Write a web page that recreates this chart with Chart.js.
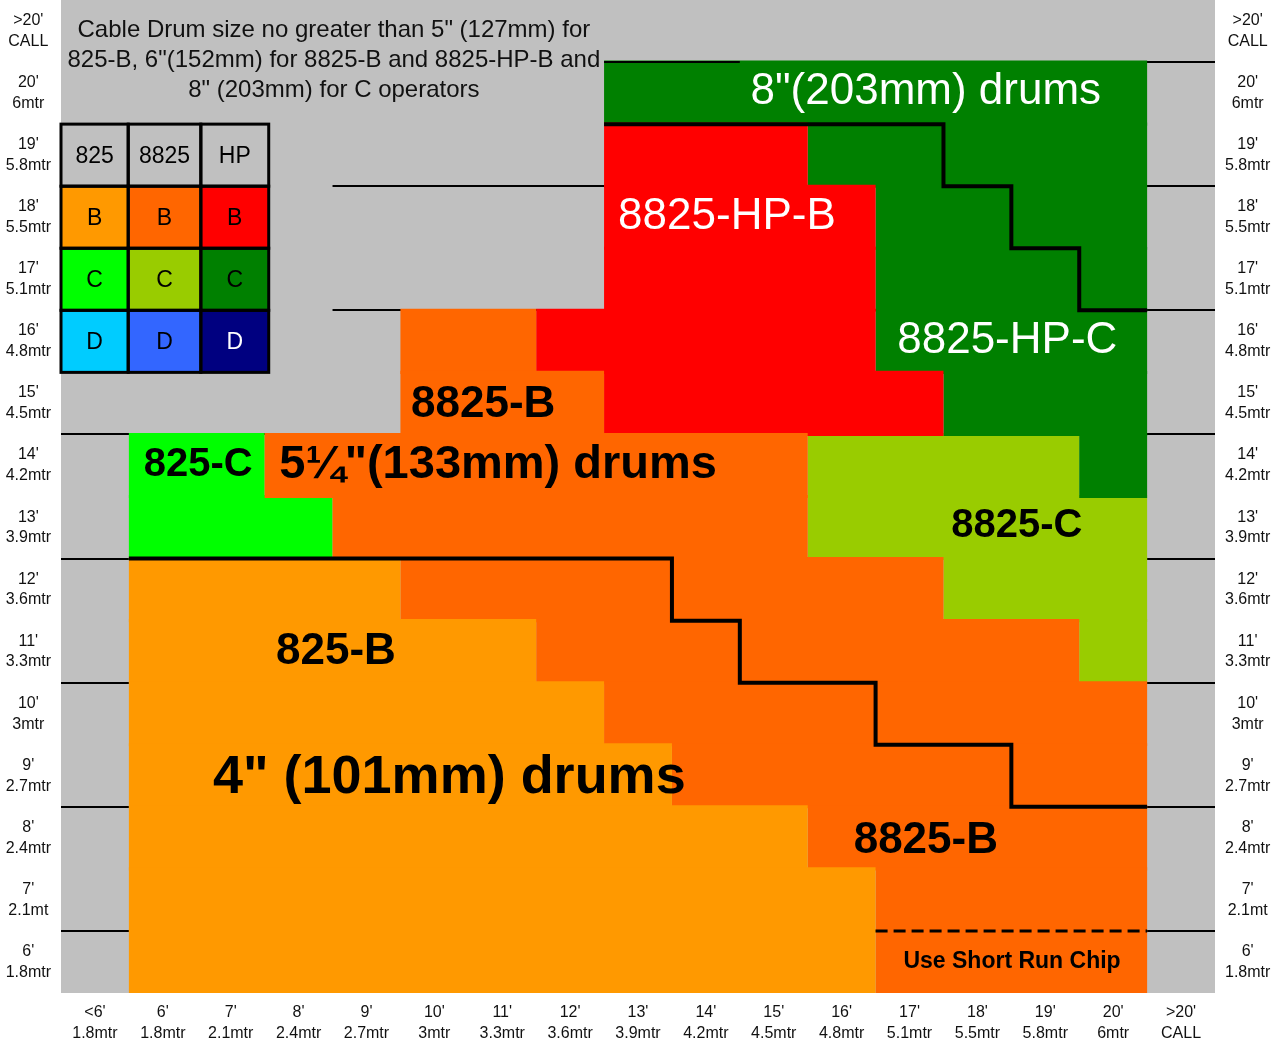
<!DOCTYPE html>
<html><head><meta charset="utf-8">
<script src="https://cdn.jsdelivr.net/npm/chart.js@4/dist/chart.umd.min.js"></script>
<style>html,body{margin:0;padding:0;background:#fff}#wrap{width:1282px;height:1046px;position:relative}</style>
</head><body><div id="wrap"><canvas id="c"></canvas></div>
<script>
// ---------- data ----------
const rowLabels = [[">20'","CALL"],["20'","6mtr"],["19'","5.8mtr"],["18'","5.5mtr"],["17'","5.1mtr"],["16'","4.8mtr"],["15'","4.5mtr"],["14'","4.2mtr"],["13'","3.9mtr"],["12'","3.6mtr"],["11'","3.3mtr"],["10'","3mtr"],["9'","2.7mtr"],["8'","2.4mtr"],["7'","2.1mt"],["6'","1.8mtr"]];
const colLabels = [["<6'","1.8mtr"],["6'","1.8mtr"],["7'","2.1mtr"],["8'","2.4mtr"],["9'","2.7mtr"],["10'","3mtr"],["11'","3.3mtr"],["12'","3.6mtr"],["13'","3.9mtr"],["14'","4.2mtr"],["15'","4.5mtr"],["16'","4.8mtr"],["17'","5.1mtr"],["18'","5.5mtr"],["19'","5.8mtr"],["20'","6mtr"],[">20'","CALL"]];
const _ = null;
// each entry: [first column, end column] per row (rows top to bottom)
const range825B    = [_,_,_,_,_,_,_,_,_,[1,5],[1,7],[1,8],[1,9],[1,11],[1,12],[1,12]];
const range8825B   = [_,_,_,_,_,[5,7],[5,8],[3,11],[4,11],[5,13],[7,15],[8,16],[9,16],[11,16],[12,16],[12,16]];
const range8825HPB = [_,_,[8,11],[8,12],[8,12],[7,12],[8,13],_,_,_,_,_,_,_,_,_];
const range8825HPC = [_,[8,16],[11,16],[12,16],[12,16],[12,16],[13,16],[15,16],_,_,_,_,_,_,_,_];
const range8825C   = [_,_,_,_,_,_,_,[11,15],[11,16],[13,16],[15,16],_,_,_,_,_];
const range825C    = [_,_,_,_,_,_,_,[1,3],[1,4],_,_,_,_,_,_,_];
// boundary lines (column, row-boundary)
const upperStep = [{x:8,y:2},{x:13,y:2},{x:13,y:3},{x:14,y:3},{x:14,y:4},{x:15,y:4},{x:15,y:5},{x:16,y:5}];
const lowerStep = [{x:1,y:9},{x:9,y:9},{x:9,y:10},{x:10,y:10},{x:10,y:11},{x:12,y:11},{x:12,y:12},{x:14,y:12},{x:14,y:13},{x:16,y:13}];
const shortRunLine = [{x:12,y:15},{x:16,y:15}];
const topRule = [{x:8,y:1},{x:10,y:1}];
// key table
const keyHeaders = ['825','8825','HP'];
const keyRows = ['B','C','D'];
const keyColors = [['#FF9900','#FF6600','#FF0000'],['#00FF00','#99CC00','#008000'],['#00CCFF','#3366FF','#000080']];
const noteLines = ['Cable Drum size no greater than 5" (127mm) for','825-B, 6"(152mm) for 8825-B and 8825-HP-B and','8" (203mm) for C operators'];

// ---------- styling ----------
const GRAY = '#C0C0C0';
const FAM = '"Liberation Sans", Arial, Helvetica, sans-serif';
const labelsOnChart = [
  {t:'8"(203mm) drums', x:12.74, y:1.48, f:'44px', c:'#fff'},
  {t:'8825-HP-B', x:9.81, y:3.50, f:'44px', c:'#fff'},
  {t:'8825-HP-C', x:13.94, y:5.49, f:'44px', c:'#fff'},
  {t:'8825-B', x:6.22, y:6.53, f:'bold 44px', c:'#000'},
  {t:'825-C', x:2.02, y:7.49, f:'bold 40px', c:'#000'},
  {t:'5\u00BC"(133mm) drums', x:6.44, y:7.49, f:'bold 47px', c:'#000'},
  {t:'8825-C', x:14.08, y:8.48, f:'bold 40px', c:'#000'},
  {t:'825-B', x:4.05, y:10.51, f:'bold 44px', c:'#000'},
  {t:'4" (101mm) drums', x:5.72, y:12.54, f:'bold 54px', c:'#000'},
  {t:'8825-B', x:12.74, y:13.55, f:'bold 44px', c:'#000'},
  {t:'Use Short Run Chip', x:14.01, y:15.49, f:'bold 23px', c:'#000'}
];

function barDs(label, data, color){
  return {type:'bar', label, data, backgroundColor:color, borderWidth:0, grouped:false,
    barPercentage:1.05, categoryPercentage:1, indexAxis:'y', xAxisID:'x', yAxisID:'y', order:2};
}
function lineDs(label, data, width, dash){
  return {type:'line', label, data, borderColor:'#000', borderWidth:width, borderDash:dash||[],
    pointRadius:0, fill:false, tension:0, indexAxis:'x', xAxisID:'x', yAxisID:'yl', order:1,
    borderJoinStyle:'miter', borderCapStyle:'butt'};
}
function noPad(s){ s.paddingTop = 0; s.paddingBottom = 0; }

const decor = {
  id:'decor',
  beforeDraw(chart){
    const {ctx, chartArea:a} = chart;
    ctx.save();
    ctx.fillStyle = '#fff'; ctx.fillRect(0,0,chart.width,chart.height);
    ctx.fillStyle = GRAY; ctx.fillRect(a.left,a.top,a.right-a.left,a.bottom-a.top);
    ctx.restore();
  },
  beforeDatasetsDraw(chart){
    const {ctx} = chart, X = chart.scales.x, Y = chart.scales.yl;
    ctx.save(); ctx.fillStyle = GRAY;
    const box = (x0,x1,y0,y1)=>{const l=X.getPixelForValue(x0),r=X.getPixelForValue(x1),t=Y.getPixelForValue(y0),b=Y.getPixelForValue(y1);ctx.fillRect(l,t,r-l,b-t);};
    box(0,8,0.5,1.5);
    box(0,4,2.5,6.5);
    ctx.restore();
  },
  afterDatasetsDraw(chart){
    const {ctx} = chart, X = chart.scales.x, Y = chart.scales.yl;
    ctx.save();
    ctx.textAlign = 'center'; ctx.textBaseline = 'middle';
    // note text
    ctx.fillStyle = '#111'; ctx.font = '24px ' + FAM;
    const nx = X.getPixelForValue(4.02), ny = Y.getPixelForValue(0.483);
    noteLines.forEach((s,i)=>ctx.fillText(s, nx, ny + i*30));
    // key table
    const xs = [0,0.99,2.06,3.06].map(v=>X.getPixelForValue(v));
    const ys = [2,3,4,5,6].map(v=>Y.getPixelForValue(v));
    for(let r=0;r<4;r++){
      for(let c=0;c<3;c++){
        const l=xs[c], t=ys[r], w=xs[c+1]-xs[c], h=ys[r+1]-ys[r];
        ctx.fillStyle = r===0 ? GRAY : keyColors[r-1][c];
        ctx.fillRect(l,t,w,h);
        ctx.fillStyle = (r===3 && c===2) ? '#fff' : '#000';
        ctx.font = '23px ' + FAM;
        ctx.fillText(r===0 ? keyHeaders[c] : keyRows[r-1], l+w/2, t+h/2+1);
      }
    }
    ctx.strokeStyle = '#000'; ctx.lineWidth = 3;
    for(let r=0;r<4;r++) for(let c=0;c<3;c++) ctx.strokeRect(xs[c],ys[r],xs[c+1]-xs[c],ys[r+1]-ys[r]);
    // labels
    labelsOnChart.forEach(a=>{
      ctx.font = a.f + ' ' + FAM; ctx.fillStyle = a.c;
      ctx.fillText(a.t, X.getPixelForValue(a.x), Y.getPixelForValue(a.y));
    });
    ctx.restore();
  }
};

const tickFont = {family:FAM, size:16, lineHeight:1.3};
new Chart(document.getElementById('c'), {
  type:'bar',
  data:{
    labels: rowLabels,
    datasets:[
      lineDs('upper', upperStep, 4),
      lineDs('lower', lowerStep, 4),
      lineDs('short run', shortRunLine, 3, [12,6]),
      lineDs('rule', topRule, 2),
      barDs('825-B', range825B, '#FF9900'),
      barDs('8825-B', range8825B, '#FF6600'),
      barDs('8825-HP-B', range8825HPB, '#FF0000'),
      barDs('8825-HP-C', range8825HPC, '#008000'),
      barDs('8825-C', range8825C, '#99CC00'),
      barDs('825-C', range825C, '#00FF00')
    ]
  },
  options:{
    indexAxis:'y',
    responsive:true, maintainAspectRatio:false, animation:false,
    layout:{padding:0},
    plugins:{legend:{display:false}, tooltip:{enabled:false}},
    scales:{
      x:{type:'linear', min:0, max:17, display:false, offset:false},
      xc:{type:'category', position:'bottom', labels:colLabels, offset:true,
          grid:{display:false, drawTicks:false}, border:{display:false},
          ticks:{font:tickFont, color:'#111', padding:9, maxRotation:0, autoSkip:false},
          afterFit(s){s.height=53; s.paddingLeft=0; s.paddingRight=0;}},
      y:{type:'category', position:'left', offset:true,
         grid:{offset:true, drawTicks:false, lineWidth:2, color:(c)=> c.index%2===1 ? '#000' : 'rgba(0,0,0,0)'},
         border:{display:false},
         ticks:{font:tickFont, color:'#111', padding:10, crossAlign:'center', autoSkip:false},
         afterFit(s){s.width=61; noPad(s);}},
      y2:{type:'category', position:'right', labels:rowLabels, offset:true,
          grid:{display:false, drawTicks:false}, border:{display:false},
          ticks:{font:tickFont, color:'#111', padding:10, crossAlign:'center', autoSkip:false},
          afterFit(s){s.width=67; noPad(s);}},
      yl:{type:'linear', min:0, max:16, reverse:true, display:false, offset:false}
    }
  },
  plugins:[decor]
});
</script></body></html>
